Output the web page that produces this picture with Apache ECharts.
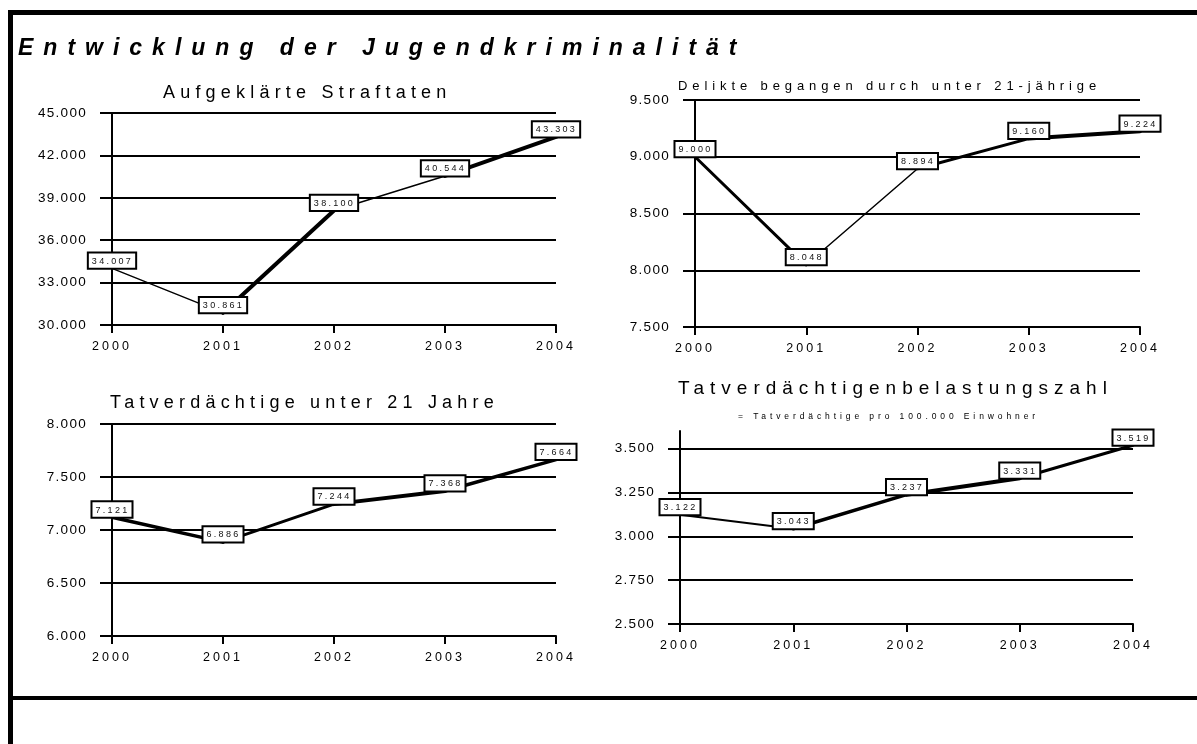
<!DOCTYPE html>
<html>
<head>
<meta charset="utf-8">
<script src="https://cdn.jsdelivr.net/npm/echarts@6/dist/echarts.min.js"></script>
<style>
  html, body { margin: 0; padding: 0; background: #fff; }
  #wrap { position: relative; width: 1197px; height: 744px; overflow: hidden; background: #fff; }
  #frame { position: absolute; left: 8px; top: 10px; width: 1200px; height: 681px;
           border-left: 5px solid #000; border-top: 5px solid #000; border-bottom: 4px solid #000; }
  #frameLow { position: absolute; left: 8px; top: 699px; width: 5px; height: 45px; background: #000; }
  #chart { position: absolute; left: 0; top: 0; width: 1197px; height: 744px; }
</style>
</head>
<body>
<div id="wrap">
  <div id="frame"></div>
  <div id="frameLow"></div>
  <div id="chart"></div>
</div>
<script>
// ---------------- DATA ----------------
const years = ['2000', '2001', '2002', '2003', '2004'];

const mainTitle = 'Entwicklung der Jugendkriminalität';

const title1 = 'Aufgeklärte Straftaten';
const values1 = [34007, 30861, 38100, 40544, 43303];
const ticks1 = [30000, 33000, 36000, 39000, 42000, 45000];

const title2 = 'Delikte begangen durch unter 21-jährige';
const values2 = [9000, 8048, 8894, 9160, 9224];
const ticks2 = [7500, 8000, 8500, 9000, 9500];

const title3 = 'Tatverdächtige unter 21 Jahre';
const values3 = [7121, 6886, 7244, 7368, 7664];
const ticks3 = [6000, 6500, 7000, 7500, 8000];

const title4 = 'Tatverdächtigenbelastungszahl';
const subtitle4 = '= Tatverdächtige pro 100.000 Einwohner';
const values4 = [3122, 3043, 3237, 3331, 3519];
const ticks4 = [2500, 2750, 3000, 3250, 3500];
const axisTop4 = 3600;

// ---------------- letter spacing (by font px size) ----------------
const SPACING = { 23: 10, 18: 5.2, 19: 6, 13: 4.9, 8.5: 3.9, 13.5: 1.3, 12.5: 3, 9: 2.3 };
(function () {
  const P = CanvasRenderingContext2D.prototype;
  if (!('letterSpacing' in P)) return;
  const apply = function (ctx) {
    const m = /(\d+(?:\.\d+)?)px/.exec(ctx.font || '');
    const v = m ? SPACING[parseFloat(m[1])] : 0;
    ctx.letterSpacing = (v || 0) + 'px';
  };
  ['fillText', 'strokeText', 'measureText'].forEach(function (fn) {
    const orig = P[fn];
    P[fn] = function () { apply(this); return orig.apply(this, arguments); };
  });
})();

// ---------------- helpers ----------------
const FONT = "'Liberation Sans', Arial, sans-serif";
const fmt = function (n) { return String(Math.round(n)).replace(/\B(?=(\d{3})+(?!\d))/g, '.'); };

const charts = [
  { values: values1, ticks: ticks1, max: ticks1[ticks1.length - 1], grid: { left: 112, right: 641, top: 113, bottom: 419 }, widths: [1.5, 4, 1.5, 4] },
  { values: values2, ticks: ticks2, max: ticks2[ticks2.length - 1], grid: { left: 695, right: 57, top: 100, bottom: 417 }, widths: [3, 1.5, 3, 4] },
  { values: values3, ticks: ticks3, max: ticks3[ticks3.length - 1], grid: { left: 112, right: 641, top: 424, bottom: 108 }, widths: [3.5, 3, 4, 3.5] },
  { values: values4, ticks: ticks4, max: axisTop4, grid: { left: 680, right: 64, top: 431, bottom: 120 }, widths: [2, 3.5, 4, 3] }
];

const grids = [], xAxes = [], yAxes = [], series = [];
charts.forEach(function (c, gi) {
  grids.push(Object.assign({ containLabel: false }, c.grid));
  xAxes.push({
    type: 'category', gridIndex: gi, data: years, boundaryGap: false,
    axisLine: { show: true, lineStyle: { color: '#000', width: 2 } },
    axisTick: { show: true, length: 8, lineStyle: { color: '#000', width: 2 } },
    axisLabel: { color: '#000', fontSize: 12.5, fontFamily: FONT, margin: 14 },
    splitLine: { show: false }
  });
  yAxes.push({
    type: 'value', gridIndex: gi, min: c.ticks[0], max: c.max,
    axisLine: { show: true, lineStyle: { color: '#000', width: 2 } },
    axisTick: { show: true, length: 12, customValues: c.ticks, lineStyle: { color: '#000', width: 2 } },
    axisLabel: { color: '#000', fontSize: 13.5, fontFamily: FONT, margin: 25, customValues: c.ticks, formatter: fmt },
    splitLine: { show: true, lineStyle: { color: '#000', width: 2 } }
  });
  // line segments with individual widths
  for (let i = 0; i < c.values.length - 1; i++) {
    series.push({
      type: 'line', xAxisIndex: gi, yAxisIndex: gi, z: 3,
      data: c.values.map(function (v, j) { return (j === i || j === i + 1) ? v : null; }),
      showSymbol: false, symbol: 'none', connectNulls: false, silent: true,
      lineStyle: { color: '#000', width: c.widths[i], cap: 'round', join: 'round' },
      animation: false
    });
  }
  // boxed value labels
  series.push({
    type: 'scatter', xAxisIndex: gi, yAxisIndex: gi, z: 5,
    data: c.values, symbol: 'circle', symbolSize: 1,
    itemStyle: { color: 'rgba(0,0,0,0)', opacity: 1 }, silent: true, animation: false,
    label: {
      show: true, position: 'top', distance: 0, formatter: function (p) { return fmt(p.value); },
      fontSize: 9, fontFamily: FONT, color: '#111',
      backgroundColor: '#fff', borderColor: '#000', borderWidth: 2,
      padding: [2, 2, 1, 3]
    },
    labelLayout: { hideOverlap: false }
  });
});

const titleStyle = function (size, extra) {
  return Object.assign({ color: '#000', fontFamily: FONT, fontSize: size, fontWeight: 'normal' }, extra || {});
};

const option = {
  animation: false,
  backgroundColor: 'transparent',
  title: [
    { text: mainTitle, left: 18, top: 32, padding: 0, textStyle: titleStyle(23, { fontWeight: 'bold', fontStyle: 'italic' }) },
    { text: title1, left: 163, top: 81, padding: 0, textStyle: titleStyle(18) },
    { text: title2, left: 678, top: 77, padding: 0, textStyle: titleStyle(13) },
    { text: title3, left: 110, top: 391, padding: 0, textStyle: titleStyle(18) },
    { text: title4, left: 678, top: 376, padding: 0, textStyle: titleStyle(19) },
    { text: subtitle4, left: 738, top: 410, padding: 0, textStyle: titleStyle(8.5) }
  ],
  grid: grids,
  xAxis: xAxes,
  yAxis: yAxes,
  series: series
};

const chart = echarts.init(document.getElementById('chart'), null, { renderer: 'canvas', width: 1197, height: 744 });
chart.setOption(option);
</script>
</body>
</html>
